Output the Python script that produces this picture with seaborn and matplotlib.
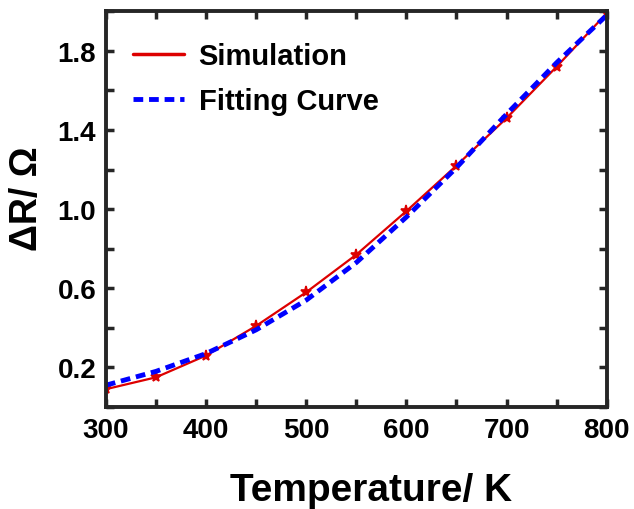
import numpy as np
import pandas as pd
import seaborn as sns
import matplotlib.pyplot as plt

# simulated points
temp_sim = [300, 350, 400, 450, 500, 550, 600, 650, 700, 750, 800]
dr_sim = [0.09, 0.15, 0.26, 0.41, 0.58, 0.77, 0.99, 1.22, 1.46, 1.72, 1.99]

# fitting curve
temp_fit = [300, 350, 400, 450, 500, 550, 600, 650, 700, 750, 800]
dr_fit = [0.11, 0.18, 0.27, 0.39, 0.54, 0.73, 0.96, 1.21, 1.48, 1.74, 1.98]

xticks = [300, 350, 400, 450, 500, 550, 600, 650, 700, 750, 800]
yticks = [0.0, 0.2, 0.4, 0.6, 0.8, 1.0, 1.2, 1.4, 1.6, 1.8, 2.0]

sim = pd.DataFrame({'T': temp_sim, 'dR': dr_sim})
fit = pd.DataFrame({'T': temp_fit, 'dR': dr_fit})

sns.set_style('ticks')
plt.rcParams['font.family'] = ['Liberation Sans', 'DejaVu Sans']
plt.rcParams['font.weight'] = 'bold'
plt.rcParams['text.color'] = 'black'
plt.rcParams['axes.labelcolor'] = 'black'
plt.rcParams['xtick.labelcolor'] = 'black'
plt.rcParams['ytick.labelcolor'] = 'black'

fig = plt.figure(figsize=(6.34, 5.10), dpi=100)
ax = fig.add_axes([0.167, 0.2, 0.79, 0.776])

sns.lineplot(data=sim, x='T', y='dR', ax=ax, color='#dd0000', lw=1.6,
             marker='*', markersize=8, markeredgewidth=1.2,
             markeredgecolor='#dd0000', label='_sim')
ax.plot([], [], color='#dd0000', lw=2.5, label='Simulation')
sns.lineplot(data=fit, x='T', y='dR', ax=ax, color='#0000ff', lw=3.5,
             linestyle=(0, (2, 1.2)), label='Fitting Curve')

ax.set_xlim(300, 800)
ax.set_ylim(0, 2.0)
ax.set_xticks(xticks)
ax.set_xticklabels([str(v) if i % 2 == 0 else '' for i, v in enumerate(xticks)])
ax.set_yticks(yticks)
ax.set_yticklabels(['' if i % 2 == 0 else f'{v:.1f}' for i, v in enumerate(yticks)])

ax.tick_params(direction='in', length=6, width=2.5, top=True, right=True,
               labelsize=20, pad=7, color='#262626')
for s in ax.spines.values():
    s.set_linewidth(2.8)
    s.set_color('#262626')
    s.set_visible(True)

ax.set_xlabel('Temperature/ K', fontsize=28, fontweight='bold', labelpad=12)
ax.xaxis.set_label_coords(0.53, -0.165)
ax.set_ylabel('ΔR/ Ω', fontsize=27, fontweight='bold', labelpad=8)
ax.yaxis.set_label_coords(-0.122, 0.53)

ax.legend(loc='upper left', frameon=False, fontsize=21, handlelength=1.75,
          handletextpad=0.5, borderaxespad=0, borderpad=0, labelspacing=0.57,
          bbox_to_anchor=(0.054, 0.922))
for t in ax.get_legend().get_texts():
    t.set_fontweight('bold')

fig.savefig('out.png', dpi=100)
